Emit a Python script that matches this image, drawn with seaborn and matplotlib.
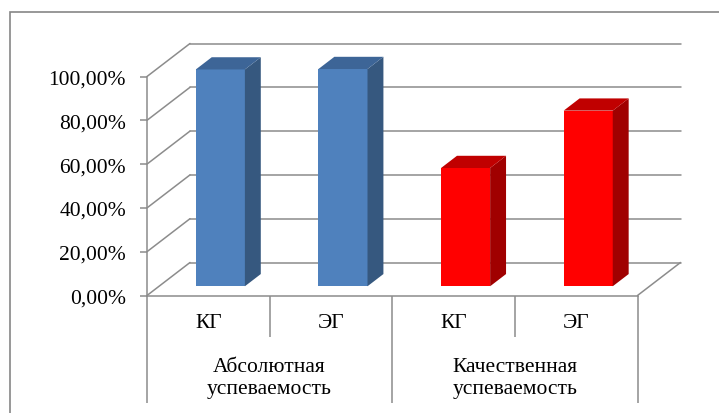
import matplotlib
matplotlib.use("Agg")
import matplotlib.pyplot as plt
from matplotlib.patches import Polygon, Rectangle
import seaborn as sns
import pandas as pd

# ---- data ----
groups = ["Абсолютная\nуспеваемость", "Качественная\nуспеваемость"]
subgroups = ["КГ", "ЭГ"]
values = [99.0, 99.2, 54.0, 80.2]
yticks = [0, 20, 40, 60, 80, 100]

front_colors = ["#4F81BD", "#FF0000"]
side_colors = ["#36587F", "#A00000"]
top_colors = ["#3D6597", "#C00000"]

sns.set_theme(style="white")
plt.rcParams["font.family"] = ["Liberation Serif", "DejaVu Serif"]

W, H = 719, 414
fig = plt.figure(figsize=(W / 100, H / 100), dpi=100)

# layout (pixels)
x_front_left, x_front_right = 147, 637.5
y_zero, y_hundred = 296.5, 77.5
off_px_x, off_px_y = 43, 33
U = (x_front_right - x_front_left) / 4      # px per category
V = (y_zero - y_hundred) / 100              # px per percent
DX = off_px_x / U
DY = off_px_y / V
F0, F1 = 0.28, 0.65                         # bar depth band
FS = 15.5

ax_w = (x_front_right - x_front_left) + off_px_x
ax_h = (y_zero - y_hundred) + off_px_y
ax = fig.add_axes([x_front_left / W, (H - y_zero) / H, ax_w / W, ax_h / H])

keys = [f"{g}|{s}" for g in groups for s in subgroups]
grp = [g for g in groups for s in subgroups]
df = pd.DataFrame({"key": keys, "value": values, "group": grp})

sns.barplot(data=df, x="key", y="value", hue="group", order=keys,
            hue_order=groups, palette=front_colors, dodge=False,
            width=0.4, legend=False, ax=ax, linewidth=0, zorder=3)

grid_c = "#8C8C8C"
# back wall gridlines and left wall diagonals
for v in yticks:
    ax.plot([-0.5, -0.5 + DX], [v, v + DY], color=grid_c, lw=1.1, zorder=1,
            clip_on=False)
    ax.plot([-0.5 + DX, 3.5 + DX], [v + DY, v + DY], color=grid_c, lw=1.1,
            zorder=1, clip_on=False)
# floor right edge
ax.plot([3.5, 3.5 + DX], [0, DY], color=grid_c, lw=1.1, zorder=1, clip_on=False)

# 3D bars
bars = [p for p in ax.patches if p.get_height() == p.get_height() and p.get_height() > 0]
bars = sorted(bars, key=lambda p: p.get_x())
for i, p in enumerate(bars):
    ci = 0 if i < 2 else 1
    x0, w, h = p.get_x(), p.get_width(), p.get_height()
    p.set_x(x0 + F0 * DX)
    p.set_y(F0 * DY)
    p.set_facecolor(front_colors[ci])
    p.set_edgecolor("none")
    side = [(x0 + w + F0 * DX, F0 * DY), (x0 + w + F1 * DX, F1 * DY),
            (x0 + w + F1 * DX, h + F1 * DY), (x0 + w + F0 * DX, h + F0 * DY)]
    top = [(x0 + F0 * DX, h + F0 * DY), (x0 + F1 * DX, h + F1 * DY),
           (x0 + w + F1 * DX, h + F1 * DY), (x0 + w + F0 * DX, h + F0 * DY)]
    ax.add_patch(Polygon(side, closed=True, facecolor=side_colors[ci],
                         edgecolor="none", zorder=3))
    ax.add_patch(Polygon(top, closed=True, facecolor=top_colors[ci],
                         edgecolor="none", zorder=3))

ax.set_xlim(-0.5, 3.5 + DX)
ax.set_ylim(0, 100 + DY)

for s in ["top", "right"]:
    ax.spines[s].set_visible(False)
ax.spines["left"].set_bounds(0, 100)
ax.spines["bottom"].set_bounds(-0.5, 3.5)
for s in ["left", "bottom"]:
    ax.spines[s].set_color(grid_c)
    ax.spines[s].set_linewidth(1.1)

ax.set_yticks(yticks, labels=[f"{v:.2f}%".replace(".", ",") for v in yticks])
ax.tick_params(axis="y", direction="out", length=5, width=1.1, color=grid_c,
               pad=10, labelsize=FS, labelcolor="black", left=True)

ax.set_xticks([-0.5, 1.5, 3.5], labels=["", "", ""])
ax.set_xticks([0.5, 2.5], labels=["", ""], minor=True)
ax.tick_params(axis="x", which="major", direction="out", length=77, width=1.1,
               color=grid_c, bottom=True)
ax.tick_params(axis="x", which="minor", direction="out", length=29.5, width=1.1,
               color=grid_c, bottom=True)
ax.set_xlabel("")
ax.set_ylabel("")

# category labels
for i, k in enumerate(keys):
    sub = k.split("|")[1]
    ax.text(i, -27.5 / V, sub, ha="center", va="center", fontsize=FS,
            color="black", clip_on=False)
for j, g in enumerate(groups):
    ax.text(2 * j + 0.5, -82 / V, g, ha="center", va="center", fontsize=FS,
            color="black", linespacing=1.25, clip_on=False)

# outer frame
fig.patches.append(Rectangle((10 / W, -0.1), 2, (H - 13) / H + 0.1,
                             transform=fig.transFigure, fill=False,
                             edgecolor="#868686", lw=1.2))

fig.savefig("out.png", dpi=100)
